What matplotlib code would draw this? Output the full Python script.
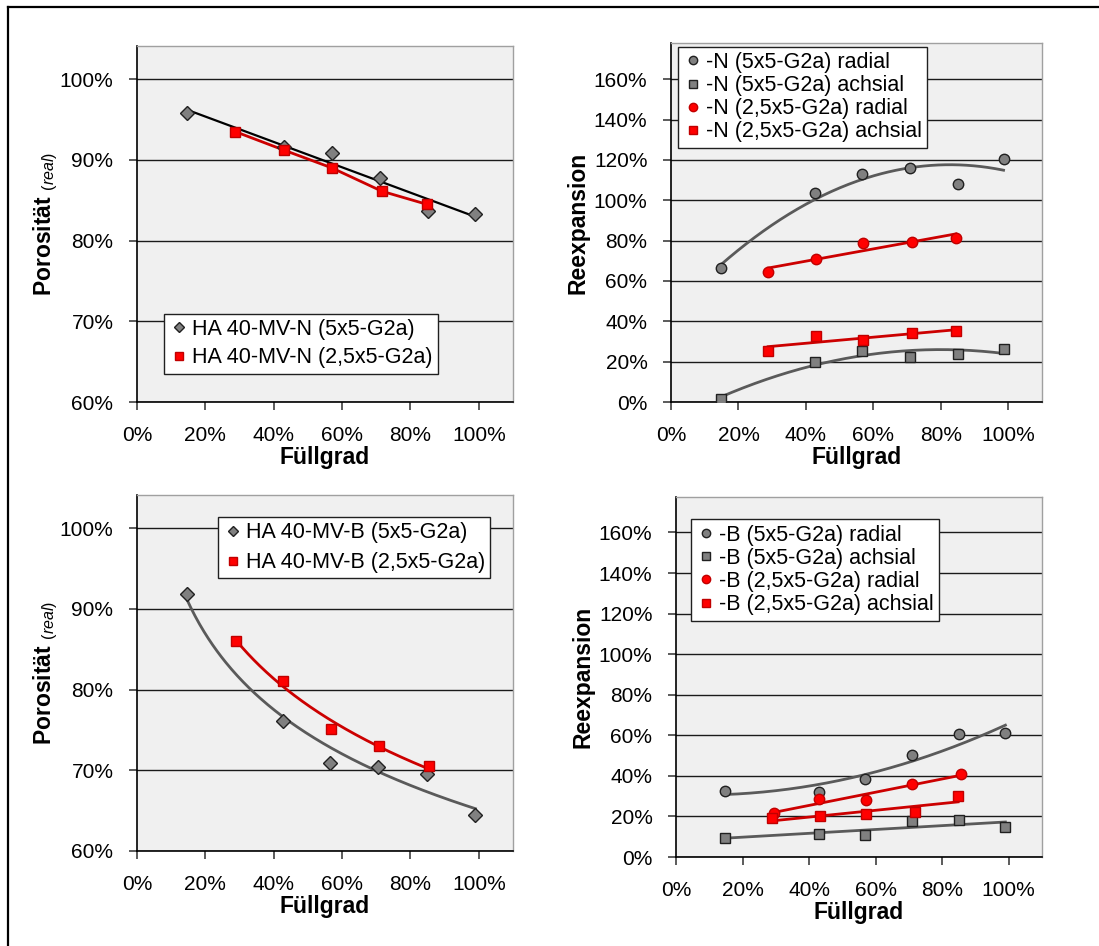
import numpy as np
import matplotlib
matplotlib.use("Agg")
import matplotlib.pyplot as plt
from matplotlib.lines import Line2D
from matplotlib.ticker import PercentFormatter

plt.rcParams['font.family'] = ['Liberation Sans', 'DejaVu Sans']
plt.rcParams['mathtext.fontset'] = 'custom'
plt.rcParams['mathtext.rm'] = 'Liberation Sans'
plt.rcParams['mathtext.it'] = 'Liberation Sans:italic'
plt.rcParams['mathtext.bf'] = 'Liberation Sans:bold'

# --- Daten: Porosität (N) ---
fg_N5 = [0.145, 0.43, 0.57, 0.71, 0.85, 0.99]
por_N5 = [0.9575, 0.916, 0.909, 0.878, 0.836, 0.833]
fg_N25 = [0.287, 0.43, 0.57, 0.717, 0.847]
por_N25 = [0.935, 0.912, 0.89, 0.861, 0.845]

# --- Daten: Reexpansion (N) ---
fg_reN5 = [0.147, 0.428, 0.567, 0.709, 0.85, 0.986]
rad_N5 = [0.662, 1.036, 1.13, 1.158, 1.083, 1.206]
ach_N5 = [0.015, 0.20, 0.253, 0.225, 0.238, 0.261]
fg_reN25 = [0.288, 0.43, 0.57, 0.714, 0.845]
rad_N25 = [0.644, 0.71, 0.787, 0.794, 0.814]
ach_N25 = [0.255, 0.326, 0.308, 0.344, 0.351]

# --- Daten: Porosität (B) ---
fg_B5 = [0.145, 0.426, 0.564, 0.706, 0.847, 0.99]
por_B5 = [0.918, 0.761, 0.709, 0.704, 0.695, 0.645]
fg_B25 = [0.291, 0.428, 0.569, 0.708, 0.855]
por_B25 = [0.86, 0.81, 0.751, 0.73, 0.705]

# --- Daten: Reexpansion (B) ---
fg_reB5 = [0.148, 0.429, 0.569, 0.708, 0.85, 0.99]
rad_B5 = [0.325, 0.322, 0.383, 0.502, 0.604, 0.611]
ach_B5 = [0.095, 0.115, 0.107, 0.176, 0.181, 0.149]
fg_radB25 = [0.294, 0.429, 0.571, 0.710, 0.856]
rad_B25 = [0.218, 0.284, 0.281, 0.36, 0.409]
fg_achB25 = [0.29, 0.432, 0.572, 0.718, 0.848]
ach_B25 = [0.191, 0.204, 0.21, 0.223, 0.30]

GREY = '#808080'
RED = '#FF0000'
TREND_GREY = '#5a5a5a'
TREND_RED = '#CC0000'
W, H = 1099, 946


def make_ax(left, top, right, bottom):
    ax = fig.add_axes([left / W, 1 - bottom / H, (right - left) / W, (bottom - top) / H])
    ax.set_facecolor('#F0F0F0')
    ax.set_xlim(0, 1.1)
    ax.set_xticks(np.arange(0, 1.01, 0.2))
    ax.xaxis.set_major_formatter(PercentFormatter(1.0, decimals=0))
    ax.yaxis.set_major_formatter(PercentFormatter(1.0, decimals=0))
    ax.grid(axis='y', color='#1a1a1a', lw=1.0)
    ax.set_axisbelow(True)
    for s in ['left', 'bottom']:
        ax.spines[s].set_color('black')
        ax.spines[s].set_linewidth(1.2)
    for s in ['top', 'right']:
        ax.spines[s].set_color('#A0A0A0')
        ax.spines[s].set_linewidth(1.0)
    ax.tick_params(axis='both', direction='out', length=6, width=1.2,
                   labelsize=15, pad=11, color='#404040')
    ax.set_xlabel('Füllgrad', fontsize=16.5, fontweight='bold', labelpad=1)
    return ax


def trend(ax, x, y, deg, color, lw=2, kind='poly'):
    x = np.asarray(x)
    y = np.asarray(y)
    xs = np.linspace(x.min(), x.max(), 200)
    if kind == 'log':
        c = np.polyfit(np.log(x), y, 1)
        ys = np.polyval(c, np.log(xs))
    else:
        c = np.polyfit(x, y, deg)
        ys = np.polyval(c, xs)
    ax.plot(xs, ys, color=color, lw=lw, zorder=2)


def legend(ax, loc, anchor, spacing):
    leg = ax.legend(loc=loc, bbox_to_anchor=anchor, fontsize=15.5, frameon=True,
                    fancybox=False, framealpha=1, edgecolor='#202020',
                    handlelength=0.9, handletextpad=0.15, borderpad=0.25,
                    borderaxespad=0, labelspacing=spacing, markerscale=0.8)
    leg.get_frame().set_linewidth(1.0)
    return leg


fig = plt.figure(figsize=(W / 100, H / 100), dpi=100)

ylab_por = 'Porosität $_{\\mathit{(real)}}$'

# Oben links
ax1 = make_ax(137, 46, 513, 402)
ax1.set_ylim(0.6, 1.041)
ax1.set_yticks(np.arange(0.6, 1.01, 0.1))
trend(ax1, fg_N5, por_N5, 1, 'black', lw=1.6)
ax1.plot(fg_N25, por_N25, color=TREND_RED, lw=2, zorder=2)
ax1.plot(fg_N5, por_N5, 'D', ms=7, mfc=GREY, mec='#202020', mew=1, ls='none',
         label='HA 40-MV-N (5x5-G2a)', zorder=3)
ax1.plot(fg_N25, por_N25, 's', ms=7, mfc=RED, mec='#C00000', mew=1, ls='none',
         label='HA 40-MV-N (2,5x5-G2a)', zorder=3)
ax1.set_ylabel(ylab_por, fontsize=16.5, fontweight='bold', labelpad=0)
legend(ax1, 'lower left', (0.072, 0.079), 0.35)

# Oben rechts
ax2 = make_ax(671, 43, 1042, 402)
ax2.set_ylim(0, 1.78)
ax2.set_yticks(np.arange(0, 1.61, 0.2))
trend(ax2, fg_reN5, rad_N5, 2, TREND_GREY)
trend(ax2, fg_reN5, ach_N5, 2, TREND_GREY)
trend(ax2, fg_reN25, rad_N25, 1, TREND_RED)
trend(ax2, fg_reN25, ach_N25, 1, TREND_RED)
ax2.plot(fg_reN5, rad_N5, 'o', ms=7.5, mfc=GREY, mec='#202020', mew=1, ls='none',
         label='-N (5x5-G2a) radial', zorder=3)
ax2.plot(fg_reN5, ach_N5, 's', ms=7, mfc=GREY, mec='#202020', mew=1, ls='none',
         label='-N (5x5-G2a) achsial', zorder=3)
ax2.plot(fg_reN25, rad_N25, 'o', ms=7.5, mfc=RED, mec='#C00000', mew=1, ls='none',
         label='-N (2,5x5-G2a) radial', zorder=3)
ax2.plot(fg_reN25, ach_N25, 's', ms=7, mfc=RED, mec='#C00000', mew=1, ls='none',
         label='-N (2,5x5-G2a) achsial', zorder=3)
ax2.set_ylabel('Reexpansion', fontsize=16.5, fontweight='bold', labelpad=3)
legend(ax2, 'upper left', (0.018, 0.99), 0.1)

# Unten links
ax3 = make_ax(137, 495, 513, 851)
ax3.set_ylim(0.6, 1.041)
ax3.set_yticks(np.arange(0.6, 1.01, 0.1))
trend(ax3, fg_B5, por_B5, 1, TREND_GREY, kind='log')
trend(ax3, fg_B25, por_B25, 1, TREND_RED, kind='log')
ax3.plot(fg_B5, por_B5, 'D', ms=7, mfc=GREY, mec='#202020', mew=1, ls='none',
         label='HA 40-MV-B (5x5-G2a)', zorder=3)
ax3.plot(fg_B25, por_B25, 's', ms=7, mfc=RED, mec='#C00000', mew=1, ls='none',
         label='HA 40-MV-B (2,5x5-G2a)', zorder=3)
ax3.set_ylabel(ylab_por, fontsize=16.5, fontweight='bold', labelpad=0)
legend(ax3, 'upper left', (0.215, 0.938), 0.4)

# Unten rechts
ax4 = make_ax(676, 497, 1042, 857)
ax4.set_ylim(0, 1.775)
ax4.set_yticks(np.arange(0, 1.61, 0.2))
trend(ax4, fg_reB5, rad_B5, 2, TREND_GREY)
trend(ax4, fg_reB5, ach_B5, 1, TREND_GREY)
trend(ax4, fg_radB25, rad_B25, 1, TREND_RED)
trend(ax4, fg_achB25, ach_B25, 1, TREND_RED)
ax4.plot(fg_reB5, rad_B5, 'o', ms=7.5, mfc=GREY, mec='#202020', mew=1, ls='none',
         label='-B (5x5-G2a) radial', zorder=3)
ax4.plot(fg_reB5, ach_B5, 's', ms=7, mfc=GREY, mec='#202020', mew=1, ls='none',
         label='-B (5x5-G2a) achsial', zorder=3)
ax4.plot(fg_radB25, rad_B25, 'o', ms=7.5, mfc=RED, mec='#C00000', mew=1, ls='none',
         label='-B (2,5x5-G2a) radial', zorder=3)
ax4.plot(fg_achB25, ach_B25, 's', ms=7, mfc=RED, mec='#C00000', mew=1, ls='none',
         label='-B (2,5x5-G2a) achsial', zorder=3)
ax4.set_ylabel('Reexpansion', fontsize=16.5, fontweight='bold', labelpad=3)
legend(ax4, 'upper left', (0.041, 0.938), 0.1)

# Rahmen (oben und links)
fig.add_artist(Line2D([7.5 / W, 1], [1 - 7.5 / H, 1 - 7.5 / H], color='black', lw=1.6,
                      transform=fig.transFigure))
fig.add_artist(Line2D([7.5 / W, 7.5 / W], [0, 1 - 7.5 / H], color='black', lw=1.6,
                      transform=fig.transFigure))

fig.savefig('out.png', dpi=100)
